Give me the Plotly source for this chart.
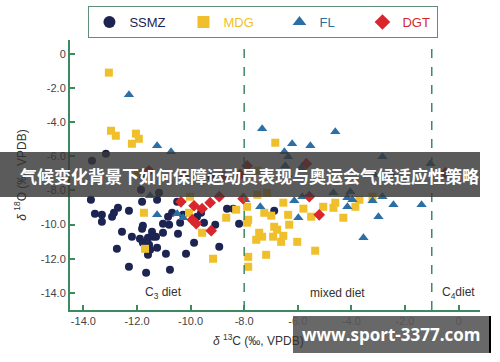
import plotly.graph_objects as go

# ---- data (δ13C, δ18O) ----
ssmz_x = [-13.68, -13.16, -12.93, -11.81, -11.85, -11.18, -9.23, -13.72, -11.81, -11.25, -10.50, -8.64, -8.41, -6.88,
          -13.57, -13.31, -13.31, -12.93, -12.86, -12.71, -12.30, -12.56, -12.19, -11.89, -11.78, -11.81, -11.78, -11.59,
          -11.55, -11.44, -11.40, -11.29, -11.03, -11.03, -10.80, -10.84, -10.69, -10.39, -10.47, -10.28, -9.76, -9.61,
          -9.50, -9.08, -9.87, -10.17, -8.93, -8.19, -12.75, -11.59, -11.51, -11.25, -10.92, -12.30, -11.66, -10.77]
ssmz_y = [-6.26, -5.85, -7.20, -7.08, -7.96, -8.14, -7.20, -8.55, -8.67, -8.55, -8.67, -9.07, -9.07, -9.19,
          -9.37, -9.43, -9.84, -9.54, -9.31, -9.02, -9.19, -10.42, -10.71, -10.83, -10.07, -10.25, -11.07, -10.77,
          -11.18, -10.42, -10.71, -10.71, -10.48, -9.95, -10.01, -9.54, -9.31, -9.89, -10.54, -9.43, -9.54, -9.31,
          -9.89, -10.01, -11.07, -11.71, -11.30, -9.95, -11.42, -11.77, -11.48, -11.36, -11.71, -12.47, -12.82, -12.65]

mdg_x = [-13.05, -12.97, -12.79, -12.04, -11.93, -12.19, -11.96, -10.02, -11.74, -10.06, -9.57, -8.67, -8.30, -7.89,
         -7.85, -7.89, -7.48, -6.84, -7.51, -7.14, -6.54, -7.25, -6.99, -6.36, -6.32, -5.50, -5.79, -5.05, -4.67,
         -4.30, -4.60, -3.85, -3.70, -3.21, -6.88, -6.77, -7.44, -7.33, -7.55, -6.92, -6.54, -6.62, -6.02, -5.35,
         -7.18, -7.85, -7.85, -11.70, -9.16]
mdg_y = [-1.11, -4.51, -4.80, -4.68, -4.98, -5.27, -6.97, -8.37, -9.31, -9.31, -10.48, -9.60, -9.13, -8.96,
         -9.72, -9.89, -6.85, -5.21, -8.26, -8.14, -8.72, -9.31, -9.48, -9.43, -10.01, -9.54, -9.07, -8.96, -9.02,
         -9.60, -8.72, -8.96, -8.55, -8.37, -10.13, -10.30, -10.48, -10.71, -10.89, -10.71, -10.66, -11.01, -11.01, -11.53,
         -11.77, -11.89, -12.47, -11.42, -12.00]

fl_x = [-12.30, -11.25, -10.73, -11.51, -11.25, -10.50, -10.28, -7.33, -4.60, -6.21, -5.53, -6.50, -6.36, -6.47,
        -5.87, -6.39, -2.84, -3.14, -2.50, -1.05, -4.04, -4.15, -3.96, -3.21, -2.84, -2.43, -1.38, -2.99, -3.55,
        -6.13, -5.83, -5.98, -7.40, -7.96, -4.67, -4.15]
fl_y = [-2.40, -5.39, -5.74, -8.31, -9.43, -9.37, -9.60, -4.39, -4.57, -5.27, -5.39, -5.74, -6.03, -6.56,
        -6.67, -7.08, -6.03, -7.08, -7.03, -6.44, -8.08, -8.43, -8.55, -8.61, -8.37, -8.84, -8.84, -9.54, -10.77,
        -8.61, -8.37, -9.60, -8.96, -8.55, -8.14, -8.96]

dgt_x = [-11.55, -10.24, -8.75, -8.15, -7.89, -10.36, -9.87, -9.57, -9.27, -8.93, -8.04, -9.94, -9.79, -9.23,
         -5.68, -5.57, -5.20, -0.49]
dgt_y = [-6.85, -7.20, -7.20, -7.08, -6.56, -8.67, -8.90, -9.07, -8.72, -8.37, -8.49, -9.72, -9.95, -10.36,
         -6.44, -8.37, -9.43, -6.97]

series_names = ["SSMZ", "MDG", "FL", "DGT"]
series_colors = ["#1c2452", "#f0bf2c", "#2a6fa6", "#d8262c"]
series_symbols = ["circle", "square", "triangle-up", "diamond"]
series_sizes = [8, 8, 9, 9]
legend_widths = [49, 51, 38, 30]

x_ticks = [-14, -12, -10, -8, -6, -4, -2, 0]
x_ticktext = ["-14.0", "-12.0", "-10.0", "-8.0", "-6.0", "-4.0", "-2.0", "0"]
y_ticks = [0, -2, -4, -6, -8, -10, -12, -14]
y_ticktext = ["0", "-2.0", "-4.0", "-6.0", "-8.0", "-10.0", "-12.0", "-14.0"]

diet_bounds = [-8, -1]
diet_labels = ["C<sub>3</sub> diet", "mixed diet", "C<sub>4</sub>diet"]
diet_label_x = [-11.0, -4.5, 0.0]
diet_label_y = -14.0

banner_text = "气候变化背景下如何保障运动员表现与奥运会气候适应性策略"
watermark_text = "www.sport-3377.com"

axis_green = "#3c8a60"

fig = go.Figure()
data = [(ssmz_x, ssmz_y), (mdg_x, mdg_y), (fl_x, fl_y), (dgt_x, dgt_y)]
for (xs, ys), name, col, sym, sz, lw in zip(data, series_names, series_colors, series_symbols,
                                             series_sizes, legend_widths):
    fig.add_trace(go.Scatter(
        x=xs, y=ys, mode="markers",
        name=f"<span style='color:{col}'>{name}</span>",
        marker=dict(color=col, symbol=sym, size=sz, line=dict(width=0)),
        legendwidth=lw,
    ))

for b in diet_bounds:
    fig.add_shape(type="line", xref="x", yref="paper", x0=b, x1=b, y0=0, y1=1,
                  line=dict(color=axis_green, width=1.5, dash="dash"))

for txt, xv in zip(diet_labels, diet_label_x):
    fig.add_annotation(x=xv, y=diet_label_y, xref="x", yref="y", text=txt, showarrow=False,
                       xanchor="center", yanchor="middle",
                       font=dict(size=12, color="#333333", family="Arial, Liberation Sans, sans-serif"))

# banner overlay
fig.add_shape(type="rect", xref="paper", yref="paper", x0=-0.171, x1=1.0, y0=0.4185, y1=0.585,
              fillcolor="rgba(55,55,55,0.82)", line=dict(width=0), layer="above")
fig.add_annotation(xref="paper", yref="paper", x=0.4366, y=0.5, xanchor="center", yanchor="middle",
                   text=f"<b>{banner_text}</b>",
                   showarrow=False, font=dict(size=17, color="white", family="Noto Sans CJK SC"))

# x-axis title as annotation
fig.add_annotation(xref="paper", yref="paper", x=0.46, y=-0.11, xanchor="center", yanchor="middle",
                   text="<i>δ</i> <sup>13</sup>C (‰, VPDB)", showarrow=False,
                   font=dict(size=12, color="#333333", family="Arial, Liberation Sans, sans-serif"))

# watermark
fig.add_shape(type="rect", xref="paper", yref="paper", x0=0.5439, x1=1.022, y0=-0.159, y1=-0.0222,
              fillcolor="rgba(88,88,88,0.9)", line=dict(width=0), layer="above")
fig.add_shape(type="line", xref="paper", yref="paper", x0=1.0244, x1=1.0244, y0=-0.159, y1=-0.0222,
              line=dict(color="black", width=2), layer="above")
fig.add_annotation(xref="paper", yref="paper", x=0.785, y=-0.0906, xanchor="center", yanchor="middle",
                   text=f"<b>{watermark_text}</b>",
                   showarrow=False, font=dict(size=17, color="white", family="Open Sans"))

fig.update_layout(
    width=500, height=362,
    margin=dict(l=70, r=20, t=40, b=52, autoexpand=False),
    paper_bgcolor="white", plot_bgcolor="white",
    font=dict(family="Arial, Liberation Sans, sans-serif", size=11, color="#444444"),
    showlegend=True,
    legend=dict(orientation="h", x=0.045, y=1.126, xanchor="left", yanchor="top",
                bordercolor="#5f8f78", borderwidth=1, bgcolor="white",
                font=dict(size=13), itemsizing="constant", tracegroupgap=0),
    xaxis=dict(range=[-14.5, 0.8], tickvals=x_ticks, ticktext=x_ticktext, showgrid=False, zeroline=False,
               showline=True, linecolor=axis_green, linewidth=2, ticks="inside", ticklen=5,
               tickcolor=axis_green, tickwidth=1.5),
    yaxis=dict(range=[-15, 0.8], tickvals=y_ticks, ticktext=y_ticktext, showgrid=False, zeroline=False,
               showline=True, linecolor=axis_green, linewidth=2, ticks="inside", ticklen=5,
               tickcolor=axis_green, tickwidth=1.5,
               title=dict(text="<i>δ</i> <sup>18</sup>O (‰, VPDB)", font=dict(size=12, color="#333333"),
                          standoff=12)),
)

fig.write_html("out.html", config={"displayModeBar": False},
               post_script="document.body.style.margin='0';document.body.style.overflow='hidden';")
